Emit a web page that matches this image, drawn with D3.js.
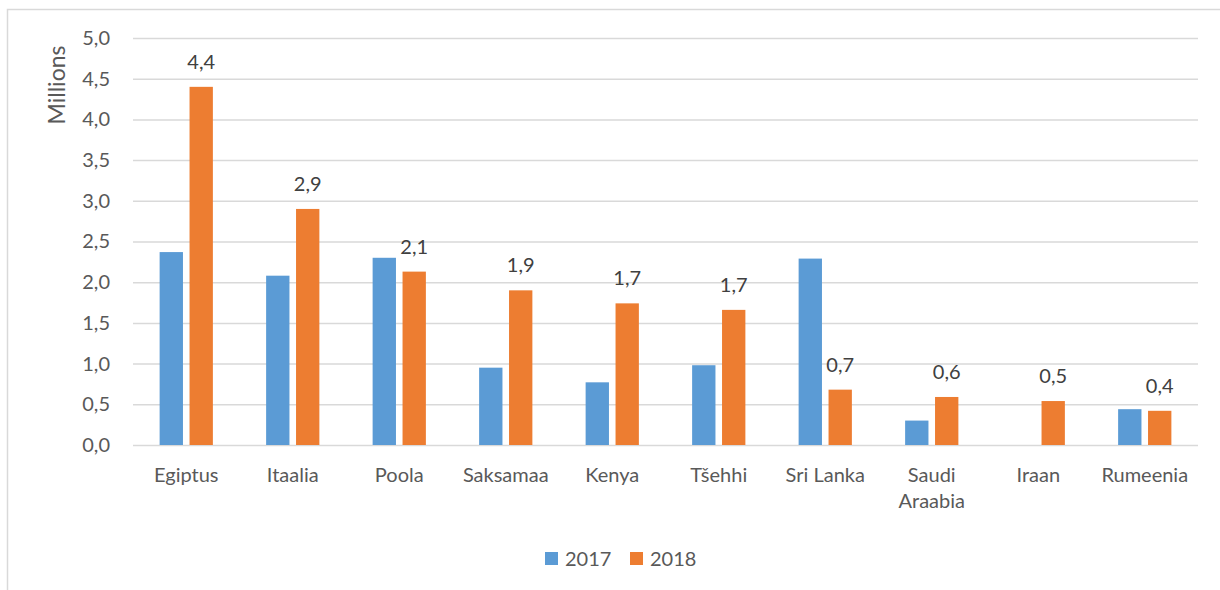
<!DOCTYPE html>
<html>
<head>
<meta charset="utf-8">
<script src="https://cdn.jsdelivr.net/npm/d3@7"></script>
<style>
  body { margin: 0; background: #fff; }
  svg { display: block; font-family: Lato, "Open Sans", sans-serif; }
</style>
</head>
<body>
<svg width="1220" height="590"></svg>
<script>
// chart data (millions)
var categories = ["Egiptus", "Itaalia", "Poola", "Saksamaa", "Kenya", "Tšehhi", "Sri Lanka", "Saudi Araabia", "Iraan", "Rumeenia"];
var series = ["2017", "2018"];
var values2017 = [2.37, 2.08, 2.30, 0.95, 0.77, 0.98, 2.29, 0.30, null, 0.44];
var values2018 = [4.40, 2.90, 2.13, 1.90, 1.74, 1.66, 0.68, 0.59, 0.54, 0.42];
var yTicks = [0, 0.5, 1, 1.5, 2, 2.5, 3, 3.5, 4, 4.5, 5];
var colors = ["#5B9BD5", "#ED7D31"];
var axisTitle = "Millions";

var svg = d3.select("svg");
// note: "top" is a reserved window prop, so use plot* names
var plotLeft = 133, plotRight = 1198, plotTop = 38, plotBottom = 445;

// comma decimal like the original
var fmt = d3.formatLocale({decimal: ",", thousands: " ", grouping: [3], currency: ["", ""]}).format(".1f");

// outer frame of the chart object
svg.append("rect")
    .attr("x", 7.5).attr("y", 9.5)
    .attr("width", 1300).attr("height", 700)
    .attr("fill", "none").attr("stroke", "#d9d9d9").attr("stroke-width", 1.5);

var x0 = d3.scaleBand().domain(categories).range([plotLeft, plotRight]).paddingInner(0.5).paddingOuter(0.25);
var x1 = d3.scaleBand().domain(series).range([0, x0.bandwidth()]).paddingInner(0.22);
var y = d3.scaleLinear().domain([0, 5]).range([plotBottom, plotTop]);
var color = d3.scaleOrdinal().domain(series).range(colors);

// y axis + gridlines
var yAxis = svg.append("g")
    .attr("transform", "translate(" + plotLeft + ",0)")
    .call(d3.axisLeft(y).tickValues(yTicks).tickFormat(fmt).tickSize(-(plotRight - plotLeft)).tickPadding(23));
yAxis.select(".domain").remove();
yAxis.selectAll(".tick line").attr("stroke", "#d9d9d9").attr("stroke-width", 1.5);
yAxis.selectAll(".tick text").attr("fill", "#595959").style("font-size", "20px").style("font-family", "Lato");

// axis title
svg.append("text")
    .attr("transform", "translate(65,85) rotate(-90)")
    .attr("text-anchor", "middle")
    .attr("fill", "#595959")
    .style("font-size", "23px")
    .text(axisTitle);

// bars
var rows = categories.map(function(c, i) {
    return {cat: c, vals: [{s: "2017", v: values2017[i]}, {s: "2018", v: values2018[i]}]};
});

var groups = svg.selectAll("g.grp")
    .data(rows)
    .enter().append("g")
    .attr("class", "grp")
    .attr("transform", function(d) { return "translate(" + x0(d.cat) + ",0)"; });

groups.selectAll("rect")
    .data(function(d) { return d.vals.filter(function(e) { return e.v != null; }); })
    .enter().append("rect")
    .attr("x", function(d) { return x1(d.s); })
    .attr("y", function(d) { return y(d.v); })
    .attr("width", x1.bandwidth())
    .attr("height", function(d) { return y(0) - y(d.v); })
    .attr("fill", function(d) { return color(d.s); });

// data labels for 2018 only
groups.append("text")
    .attr("x", function(d) { return x1("2018") + x1.bandwidth() / 2; })
    .attr("y", function(d) { return y(d.vals[1].v) - 18; })
    .attr("text-anchor", "middle")
    .attr("fill", "#404040")
    .style("font-size", "20px")
    .text(function(d) { return fmt(d.vals[1].v); });

// x axis labels
var xAxis = svg.append("g")
    .attr("transform", "translate(0," + plotBottom + ")")
    .call(d3.axisBottom(x0).tickSize(0).tickPadding(23));
xAxis.select(".domain").remove();
xAxis.selectAll(".tick text")
    .attr("fill", "#595959")
    .style("font-size", "20px")
    .style("font-family", "Lato")
    .call(wrap, 100);

function wrap(texts, width) {
    texts.each(function() {
        var text = d3.select(this);
        var words = text.text().split(" ");
        var yy = text.attr("y"), dy = text.attr("dy");
        text.text(null);
        var line = [];
        var lineNo = 0;
        var tspan = text.append("tspan").attr("x", 0).attr("y", yy).attr("dy", dy);
        words.forEach(function(w) {
            line.push(w);
            tspan.text(line.join(" "));
            if (tspan.node().getComputedTextLength() > width && line.length > 1) {
                line.pop();
                tspan.text(line.join(" "));
                line = [w];
                lineNo++;
                tspan = text.append("tspan").attr("x", 0).attr("y", yy)
                    .attr("dy", (lineNo * 1.3) + parseFloat(dy) + "em").text(w);
            }
        });
    });
}

// legend
var legend = svg.append("g").attr("transform", "translate(545,552)");
var items = legend.selectAll("g")
    .data(series)
    .enter().append("g")
    .attr("transform", function(d, i) { return "translate(" + (i * 85) + ",0)"; });
items.append("rect")
    .attr("width", 13).attr("height", 13)
    .attr("fill", function(d) { return color(d); });
items.append("text")
    .attr("x", 20).attr("y", 14)
    .attr("fill", "#595959")
    .style("font-size", "20px")
    .text(function(d) { return d; });
</script>
</body>
</html>
